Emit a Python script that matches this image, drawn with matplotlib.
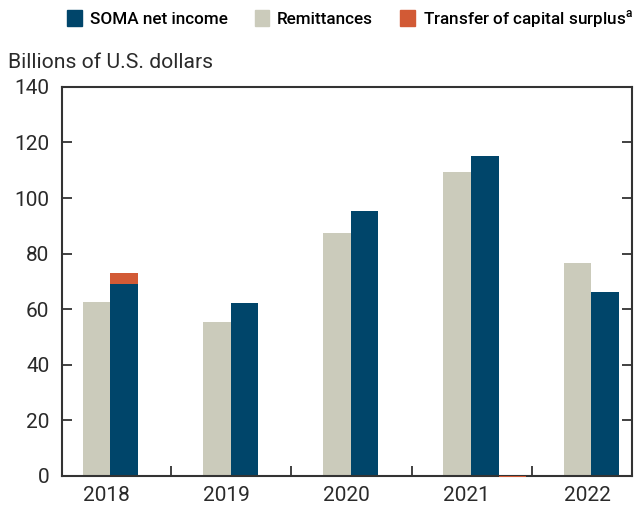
import numpy as np
import matplotlib
matplotlib.use("Agg")
import matplotlib.pyplot as plt
from matplotlib.patches import Patch

plt.rcParams['font.family'] = ['Roboto', 'DejaVu Sans']
plt.rcParams['mathtext.fontset'] = 'custom'
plt.rcParams['mathtext.rm'] = 'Roboto:medium'

years = ['2018', '2019', '2020', '2021', '2022']
soma_income = [69.2, 62.1, 95.2, 115.2, 66.2]
remittances = [62.6, 55.4, 87.4, 109.5, 76.5]
capital_surplus = [3.9, 0, 0, 0, 0]

# small extra bar shown to the right of the 2021 pair
extra_2021_remit = 0.5
extra_2021_surplus = -0.4

c_soma = '#00456a'
c_remit = '#cbcbbb'
c_surplus = '#d25a35'

fig = plt.figure(figsize=(6.39, 5.08), dpi=100)
ax = fig.add_axes([0.097, 0.063, 0.892, 0.766])

x = np.arange(len(years))
w = 0.23
ax.bar(x - 0.12, remittances, w, color=c_remit)
ax.bar(x + 0.11, soma_income, w, color=c_soma)
ax.bar(x + 0.11, capital_surplus, w, bottom=soma_income, color=c_surplus)
ax.bar(3 + 0.34, extra_2021_remit, w, color=c_remit, clip_on=False)
ax.bar(3 + 0.34, extra_2021_surplus, w, color=c_surplus, clip_on=False, zorder=3)

ax.set_xlim(-0.406, 4.332)
ax.set_ylim(0, 140)
ax.set_yticks(range(0, 141, 20))
ax.set_xticks(x - 0.04)
ax.set_xticklabels(years)
ax.set_xticks(x[:-1] + 0.5, minor=True)

ax.tick_params(axis='x', which='major', length=0, labelsize=15, pad=7, labelcolor='#2a2a2a')
ax.tick_params(axis='x', which='minor', direction='in', length=7, width=1.3, color='#333333')
ax.tick_params(axis='y', direction='in', length=7, width=1.3, color='#333333',
               labelsize=15, right=True, pad=9, labelcolor='#2a2a2a')
for s in ax.spines.values():
    s.set_color('#333333')
    s.set_linewidth(1.5)

fig.text(0.012, 0.876, 'Billions of U.S. dollars', fontsize=15.2,
         color='#2a2a2a', ha='left', va='center')

handles = [Patch(color=c_soma), Patch(color=c_remit), Patch(color=c_surplus)]
labels = ['SOMA net income', 'Remittances', 'Transfer of capital surplus$^{\\rm a}$']
fig.legend(handles, labels, ncol=3, loc='center', bbox_to_anchor=(0.548, 0.963),
           frameon=False, handlelength=0.85, handleheight=1.0, handletextpad=0.45,
           columnspacing=1.6, prop={'size': 12.3, 'weight': 'medium'})

plt.savefig('out.png', dpi=100)
